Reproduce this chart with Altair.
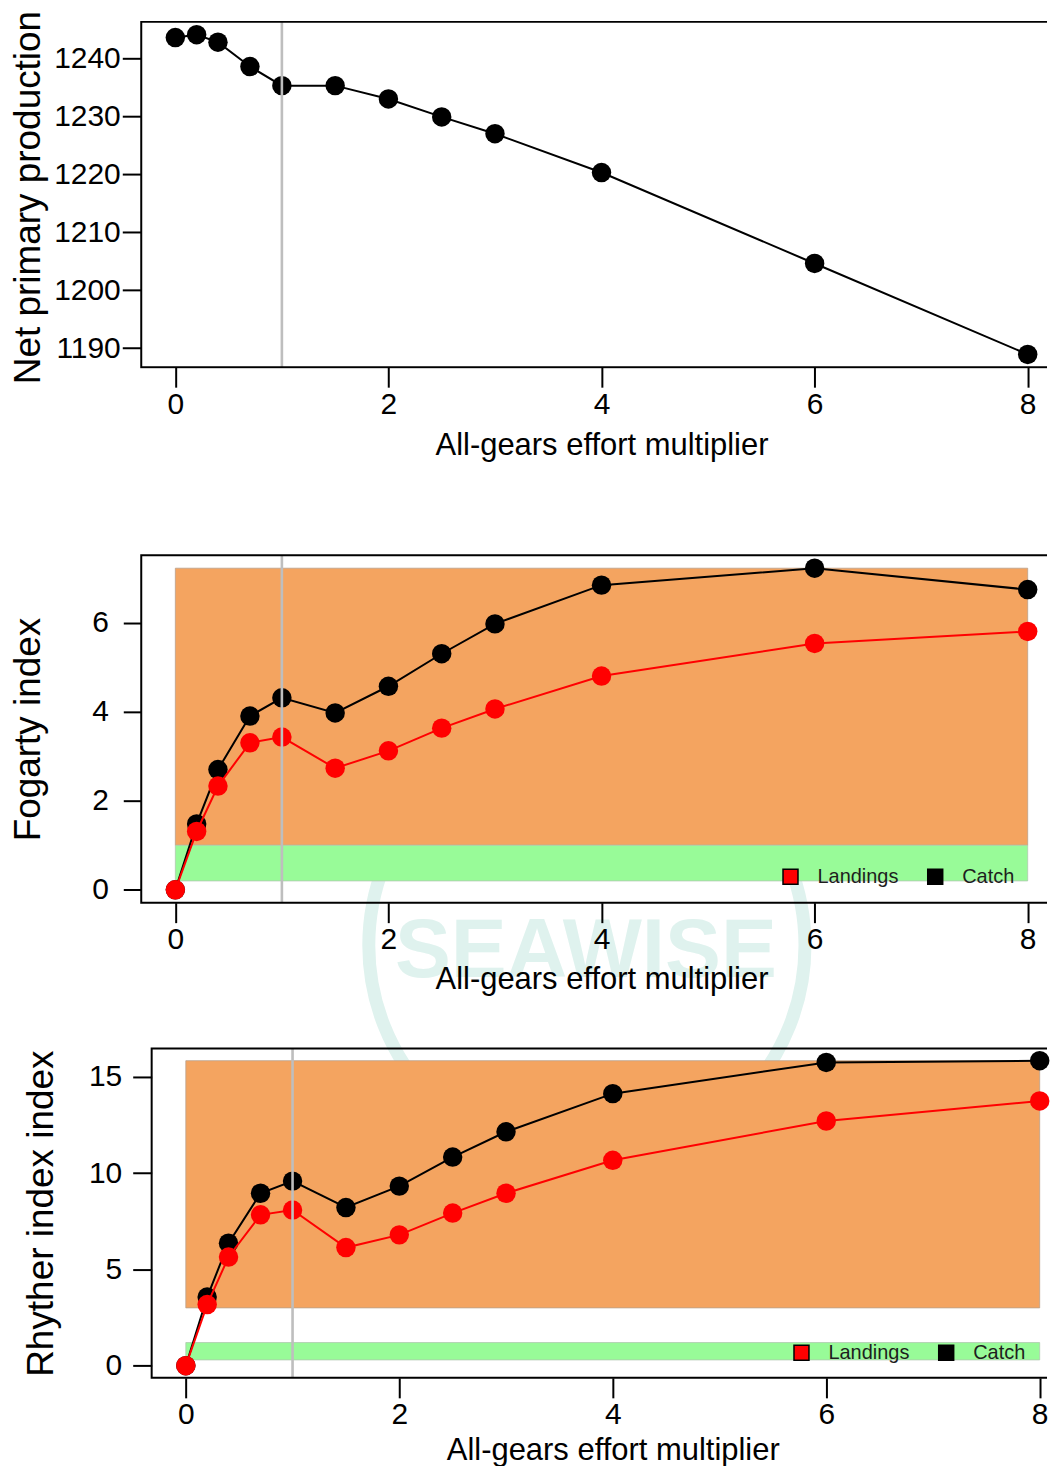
import altair as alt
import pandas as pd

# ---------------- data ----------------
effort = [0, 0.2, 0.4, 0.7, 1, 1.5, 2, 2.5, 3, 4, 6, 8]
npp = [1243.6, 1244.1, 1242.8, 1238.6, 1235.3, 1235.3, 1233.0, 1229.9, 1227.0, 1220.3, 1204.6, 1188.9]
fogarty_catch = [0, 1.48, 2.70, 3.90, 4.31, 3.97, 4.57, 5.30, 5.97, 6.84, 7.22, 6.74]
fogarty_landings = [0, 1.31, 2.33, 3.30, 3.43, 2.73, 3.12, 3.63, 4.06, 4.80, 5.53, 5.80]
rhyther_catch = [0, 3.56, 6.36, 8.95, 9.58, 8.21, 9.32, 10.83, 12.14, 14.12, 15.74, 15.83]
rhyther_landings = [0, 3.17, 5.64, 7.83, 8.08, 6.13, 6.79, 7.92, 8.95, 10.66, 12.70, 13.74]
fogarty_green = [0.2, 1.0]
fogarty_orange_low = 1.0
rhyther_green = [0.3, 1.2]
rhyther_orange_low = 3.0
baseline_effort = 1.0
series_names = ["Landings", "Catch"]
series_colors = ["#FF0000", "#000000"]
x_ticks = [0, 2, 4, 6, 8]
npp_ticks = [1190, 1200, 1210, 1220, 1230, 1240]
fogarty_ticks = [0, 2, 4, 6]
rhyther_ticks = [0, 5, 10, 15]
x_title = "All-gears effort multiplier"
watermark_text = "SEAWISE"

# ---------------- layout / style ----------------
FONT = "Liberation Sans"
PLOT_W = 909
EDGE = 1.5
ORANGE = "#F4A460"
GREEN = "#98FB98"
GREY = "#BEBEBE"
WM = "#dff2ee"


def usr(values):
    lo, hi = min(values), max(values)
    d = 0.04 * (hi - lo)
    return lo - d, hi + d


XU = usr(effort)


def panel(series, ytitle, yticks, frame_h, extra_top, px_x, x_inset,
          ytick_size, ylab_pad, ytitle_x, xtitle_y, ytitle_shift=0.0, bands=None,
          legend_xy=None, watermark=False):
    yvals = [v for s in series.values() for v in s]
    ylo, yhi = usr(yvals)
    ky = frame_h / (yhi - ylo)
    ydom = [ylo - EDGE / ky, yhi + (EDGE + extra_top) / ky]
    view_h = frame_h + 2 * EDGE + extra_top
    xlo = XU[0] - x_inset / px_x
    xdom = [xlo, xlo + PLOT_W / px_x]
    xtitle_x = ((XU[0] + XU[1]) / 2 - xlo) * px_x

    X = alt.X("effort:Q", scale=alt.Scale(domain=xdom, nice=False, zero=False),
              axis=alt.Axis(values=x_ticks, title=x_title, domain=False, grid=False,
                            offset=-EDGE, tickSize=20, tickWidth=2, tickColor="black",
                            labelFont=FONT, labelFontSize=30, labelColor="black",
                            labelPadding=2, labelFlush=False, labelOverlap=False,
                            titleFont=FONT, titleFontSize=31, titleFontWeight="normal",
                            titleColor="black", titleX=xtitle_x, titleY=xtitle_y,
                            titleAlign="center", titleBaseline="alphabetic", zindex=1))
    Y = alt.Y("value:Q", scale=alt.Scale(domain=ydom, nice=False, zero=False),
              axis=alt.Axis(values=yticks, title=ytitle, domain=False, grid=False,
                            offset=-x_inset, tickSize=ytick_size, tickWidth=2,
                            tickColor="black", format="d",
                            labelFont=FONT, labelFontSize=30, labelColor="black",
                            labelPadding=ylab_pad, labelFlush=False, labelOverlap=False,
                            titleFont=FONT, titleFontSize=37, titleFontWeight="normal",
                            titleColor="black", titleAngle=270, titleX=ytitle_x,
                            titleY=extra_top + EDGE + frame_h / 2 + ytitle_shift,
                            titleAlign="center", titleBaseline="alphabetic", zindex=1))

    layers = []
    if watermark:
        wm = pd.DataFrame({"label": [watermark_text]})
        layers.append(alt.Chart(wm).mark_point(shape="circle", filled=False, size=191000,
                                               stroke=WM, strokeWidth=13, opacity=1)
                      .encode(x=alt.value(448), y=alt.value(433 + extra_top - 40.7)))
        layers.append(alt.Chart(wm).mark_text(font=FONT, fontSize=84, fontWeight="bold",
                                              color=WM, baseline="middle")
                      .encode(x=alt.value(447), y=alt.value(440 + extra_top - 40.7),
                              text="label:N"))
    if bands is not None:
        green, orange_low, top = bands
        odf = pd.DataFrame({"effort": [min(effort)], "effort2": [max(effort)],
                            "value": [orange_low], "value2": [top]})
        gdf = pd.DataFrame({"effort": [min(effort)], "effort2": [max(effort)],
                            "value": [green[0]], "value2": [green[1]]})
        layers.append(alt.Chart(odf).mark_rect(fill=ORANGE, stroke="#b9a08a", strokeWidth=0.8)
                      .encode(x=X, x2="effort2:Q", y=Y, y2="value2:Q"))
        layers.append(alt.Chart(gdf).mark_rect(fill=GREEN, stroke="#b0c8b0", strokeWidth=0.8)
                      .encode(x=X, x2="effort2:Q", y=Y, y2="value2:Q"))

    order = [n for n in ["Catch", "Landings"] if n in series]
    for name in order:
        d = pd.DataFrame({"effort": effort, "value": series[name], "series": name})
        col = series_colors[series_names.index(name)]
        layers.append(alt.Chart(d).mark_line(color=col, strokeWidth=2).encode(x=X, y=Y))
        if legend_xy is None:
            color = alt.value(col)
        else:
            color = alt.Color("series:N",
                              scale=alt.Scale(domain=series_names, range=series_colors),
                              legend=alt.Legend(title=None, orient="none",
                                                legendX=legend_xy[0], legendY=legend_xy[1],
                                                direction="horizontal", symbolType="square",
                                                symbolSize=225, symbolStrokeColor="black",
                                                symbolStrokeWidth=1.5, symbolOpacity=1,
                                                labelFont=FONT, labelFontSize=20,
                                                labelColor="#1e1e1e", labelOffset=17,
                                                columnPadding=25, padding=0))
        layers.append(alt.Chart(d).mark_point(filled=True, shape="circle", size=380, opacity=1)
                      .encode(x=X, y=Y, color=color))

    rdf = pd.DataFrame({"effort": [baseline_effort], "value": [ylo], "value2": [yhi]})
    layers.append(alt.Chart(rdf).mark_rule(color=GREY, strokeWidth=2.6)
                  .encode(x=X, y=Y, y2="value2:Q"))
    fdf = pd.DataFrame({"effort": [XU[0]], "effort2": [XU[1]], "value": [ylo], "value2": [yhi]})
    layers.append(alt.Chart(fdf).mark_rect(fillOpacity=0, stroke="black", strokeWidth=2, clip=True)
                  .encode(x=X, x2="effort2:Q", y=Y, y2="value2:Q"))
    return alt.layer(*layers).properties(
        width=PLOT_W, height=view_h,
        view=alt.ViewBackground(stroke="transparent", strokeWidth=0, fill="transparent"))


p1 = panel({"Catch": npp}, "Net primary production", npp_ticks,
           frame_h=346, extra_top=0, px_x=106.75, x_inset=EDGE,
           ytick_size=19, ylab_pad=2, ytitle_x=-101.6, xtitle_y=87, ytitle_shift=2.5)
p2 = panel({"Catch": fogarty_catch, "Landings": fogarty_landings}, "Fogarty index",
           fogarty_ticks, frame_h=348, extra_top=42.7, px_x=106.75, x_inset=EDGE,
           ytick_size=18, ylab_pad=15, ytitle_x=-101.6, xtitle_y=86,
           bands=(fogarty_green, fogarty_orange_low, max(fogarty_catch)),
           legend_xy=(642, 356), watermark=True)
p3 = panel({"Catch": rhyther_catch, "Landings": rhyther_landings}, "Rhyther index index",
           rhyther_ticks, frame_h=330, extra_top=0, px_x=106.94, x_inset=11.94,
           ytick_size=19, ylab_pad=11, ytitle_x=-99.4, xtitle_y=82,
           bands=(rhyther_green, rhyther_orange_low, max(rhyther_catch)),
           legend_xy=(653, 296))

chart = (alt.vconcat(p1, p2, p3, spacing=142.8, bounds="flush")
         .resolve_scale(x="independent", y="independent", color="independent")
         .resolve_legend(color="independent")
         .properties(padding={"left": 1, "top": 0, "right": 0, "bottom": 0},
                     background="white")
         .configure_view(stroke="transparent", strokeWidth=0)
         .configure(font=FONT))

chart.save("out.html", embed_options={"renderer": "svg", "actions": False})
